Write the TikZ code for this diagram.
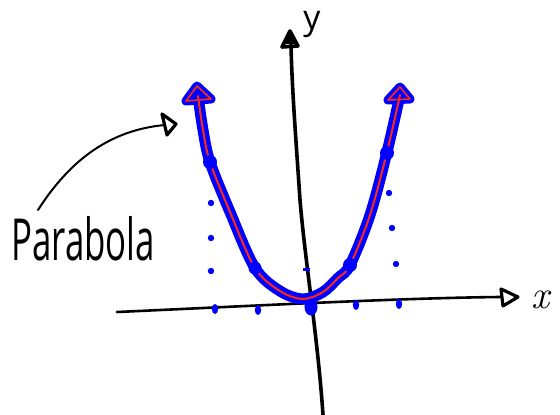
\documentclass[tikz,border=0pt]{standalone}
\usepackage{fontspec}
\setsansfont{Open Sans}
\usetikzlibrary{calc}
\definecolor{pblue}{RGB}{0,0,255}
\definecolor{pred}{RGB}{255,40,20}
\tikzset{
  axisline/.style={black,line width=3.6pt,line cap=round,line join=round},
  blueline/.style={pblue,line width=11pt,line cap=round,line join=round},
  redline/.style={pred,line width=2pt,line cap=round,line join=round},
  dotsmall/.style={pblue,fill=pblue},
  hand/.style={font=\sffamily,inner sep=0pt}
}
\begin{document}
\begin{tikzpicture}[x=1pt,y=-1pt]
\useasboundingbox (0,0) rectangle (560,415);
% coordinates
\coordinate (xl) at (117,312);
\coordinate (xr) at (500,297);
\coordinate (yb) at (323,415);
\coordinate (yt) at (291,45);
% x axis
\draw[axisline,line width=2.6pt] (xl) .. controls (250,306) and (400,298) .. (xr);
\draw[axisline,line width=3.2pt] (501,289) -- (518,297) -- (503,306) -- cycle;
% y axis
\draw[axisline] (yb) .. controls (318,340) and (305,260) .. (300,200) .. controls (296,140) and (292,90) .. (yt);
\draw[axisline] (282,47) -- (290,31) -- (298,46) -- cycle;
\fill (284,44) -- (290,33) -- (296,44) -- cycle;
% labels
\node[hand,font=\sffamily\fontsize{34}{34}\selectfont] (ylab) at (312,24) {y};
\node[hand,font=\itshape\fontsize{40}{40}\selectfont] (xlab) at (540,300) {x};
\node[hand,anchor=west] (para) at (11,239) {\scalebox{0.6}[1]{\fontsize{58}{58}\selectfont Parabola}};
% annotation arrow
\coordinate (as) at (38,210);
\coordinate (ae) at (165,125);
\draw[black,line width=2pt,line cap=round] (as) .. controls (70,160) and (110,130) .. (ae);
\draw[axisline,line width=3.2pt] (162,114) -- (176,124) -- (167,135) -- cycle;
% parabola
\def\parab{plot[smooth,tension=0.55] coordinates {(198,96) (203,130) (210,162) (230,212) (255,268) (280,291) (303,299) (323,292) (338,278) (350,265) (370,215) (387,152) (400,95)}}
\draw[blueline] \parab;
\draw[blueline,line width=9pt] (186,101) -- (211,99) -- (197,86) -- cycle;
\draw[blueline,line width=9pt] (388,100) -- (410,99) -- (400,87) -- cycle;
\draw[redline] \parab;
\draw[redline,line width=1.6pt] (186,101) -- (211,99) -- (197,86) -- cycle;
\draw[redline,line width=1.6pt] (388,100) -- (410,99) -- (400,87) -- cycle;
% big blobs on curve
\fill[pblue] (210,162) circle (7);
\fill[pblue] (255,268) circle (6.5);
\fill[pblue] (350,265) circle (7);
\fill[pblue] (387,153) circle (7);
\fill[pblue] (311,307) ellipse (6.5 and 8.5);
% small dots
\foreach \p in {(211,203),(211,238),(211,271),(389,193),(392,228),(396,264)}
  \fill[dotsmall] \p circle (3.2);
\foreach \p in {(215,309),(258,310),(356,305),(399,304)}
  \fill[dotsmall] \p ellipse (3.2 and 5);
\fill[pblue] (303,268) rectangle (310,271);
\end{tikzpicture}
\end{document}
